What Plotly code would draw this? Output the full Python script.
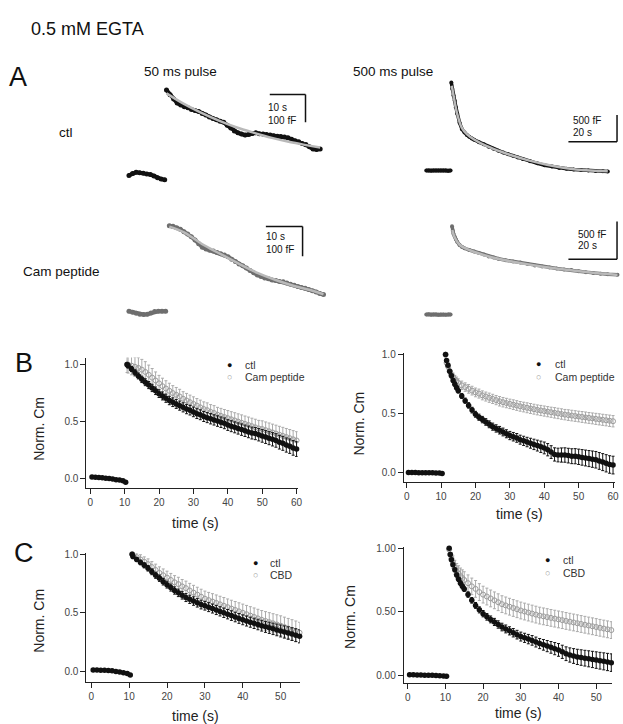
import plotly.graph_objects as go

W, H = 623, 724
FONT = "Arial, 'Liberation Sans', sans-serif"

# ---------------- Panel A: raw capacitance traces (time in s, Cm in fF) ----------------
A50_base_t = [0, 1, 2, 3, 4, 5, 6, 7, 8, 9, 10]
A50_ctl_base = [5, 12, 16, 15, 13, 10, 8, 3, -3, -8, -11]
A50_ctl_t = [10.5, 11.5, 12.5, 13.5, 14.5, 15.5, 16.5, 17.5, 18.5, 19.5, 20.5, 21.5, 22.5, 23.5, 24.5,
             25.5, 26.5, 27.5, 28.5, 29.5, 30.5, 31.5, 32.5, 33.5, 34.5, 35.5, 36.5, 37.5, 38.5, 39.5,
             40.5, 41.5, 42.5, 43.5, 44.5, 45.5, 46.5, 47.5, 48.5, 49.5, 50.5, 51.5, 52.5, 53.5]
A50_ctl = [312, 295, 280, 265, 258, 252, 248, 242, 238, 235, 228, 222, 215, 210, 205,
           200, 196, 185, 175, 165, 158, 154, 150, 152, 156, 158, 155, 154, 152, 150,
           148, 146, 145, 143, 140, 135, 130, 126, 120, 116, 108, 100, 98, 100]
A50_ctl_fit_t = [10.5, 15, 20, 25, 30, 35, 40, 45, 50, 53.5]
A50_ctl_fit = [300, 265, 232, 203, 178, 158, 140, 125, 113, 105]

A50_cam_base = [3, 0, -4, -7, -8, -7, -3, 2, 3, 3, 3]
A50_cam_t = [11, 12, 13, 14, 15, 16, 17, 18, 19, 20, 21, 22, 23, 24, 25, 26, 27, 28, 29, 30, 31, 32,
             33, 34, 35, 36, 37, 38, 39, 40, 41, 42, 43, 44, 45, 46, 47, 48, 49, 50, 51, 52, 53]
A50_cam = [290, 288, 283, 278, 270, 262, 253, 242, 230, 218, 212, 208, 205, 200, 196, 192, 186, 178,
           170, 162, 156, 148, 140, 132, 125, 120, 115, 112, 108, 106, 103, 102, 98, 94, 90, 86, 83,
           80, 76, 72, 68, 63, 59]
A50_cam_fit_t = [11, 15, 20, 25, 30, 35, 40, 45, 50, 53]
A50_cam_fit = [287, 268, 228, 195, 162, 132, 108, 88, 72, 60]

A500_base_t = [0.3, 1.3, 2.3, 3.3, 4.3, 5.3, 6.3, 7.3, 8.3, 9.3, 10.3]
A500_ctl_base = [0, 2, -2, 1, 3, 0, -1, 2, 0, -2, 1]
A500_ctl_t = [10.6, 11, 11.5, 12, 12.5, 13, 14, 15, 16, 17, 18, 19, 20, 22, 24, 26, 28, 30, 32, 34,
              36, 38, 40, 43, 46, 49, 52, 55, 58, 61, 64, 67, 70, 73, 75]
A500_ctl = [1640, 1520, 1400, 1300, 1180, 1060, 890, 770, 710, 665, 630, 600, 575, 530, 490, 445,
            405, 370, 335, 305, 275, 245, 215, 175, 135, 100, 75, 50, 35, 20, 10, 0, -8, -15, -18]
A500_ctl_fit_t = [10.8, 12, 13, 15, 17, 20, 25, 30, 36, 42, 50, 58, 66, 75]
A500_ctl_fit = [1580, 1280, 1060, 790, 680, 580, 460, 370, 275, 195, 110, 45, 5, -15]

A500_cam_base = [0, 3, -2, 2, 0, -3, 1, 2, -1, 0, 2]
A500_cam_t = [10.9, 11.2, 11.5, 12, 12.5, 13, 14, 15, 16, 18, 20, 22, 24, 26, 28, 30, 33, 36, 39, 42,
              45, 48, 51, 54, 57, 60, 63, 66, 69, 72, 75, 79]
A500_cam = [1170, 1110, 1070, 1030, 995, 965, 920, 895, 878, 855, 835, 815, 795, 770, 755, 740, 720,
            703, 688, 670, 650, 638, 625, 610, 598, 590, 575, 562, 550, 542, 535, 526]
A500_cam_fit_t = [11, 12, 14, 18, 26, 36, 47, 59, 70, 79]
A500_cam_fit = [1120, 1020, 925, 855, 770, 700, 640, 590, 550, 525]

# ---------------- Panels B and C: normalised Cm, mean +/- SEM ----------------
T0 = [0.5, 1.5, 2.5, 3.5, 4.5, 5.5, 6.5, 7.5, 8.5, 9.5, 10.3]
BASE_ERR = [0.01, 0.01, 0.01, 0.01, 0.01, 0.01, 0.01, 0.01, 0.01, 0.01, 0.01]

T_BL = [10.7, 11, 12, 13, 14, 15, 16, 17, 18, 19, 20, 21, 22, 23, 24, 25, 26, 27, 28, 29, 30,
        31, 32, 33, 34, 35, 36, 37, 38, 39, 40, 41, 42, 43, 44, 45, 46, 47, 48, 49, 50,
        51, 52, 53, 54, 55, 56, 57, 58, 59, 60]
BL_base = [0.015, 0.013, 0.01, 0.008, 0.005, 0.002, -0.002, -0.008, -0.012, -0.018, -0.03]
BL_ctl = [1.0, 0.99, 0.96, 0.93, 0.90, 0.87, 0.845, 0.82, 0.795, 0.77, 0.745,
          0.725, 0.705, 0.685, 0.67, 0.655, 0.64, 0.625, 0.61, 0.60, 0.585,
          0.57, 0.56, 0.545, 0.535, 0.525, 0.515, 0.505, 0.495, 0.485, 0.47,
          0.46, 0.45, 0.44, 0.43, 0.42, 0.41, 0.40, 0.395, 0.385, 0.375,
          0.365, 0.355, 0.345, 0.335, 0.32, 0.31, 0.295, 0.285, 0.27, 0.26]
BL_ctl_err = [0.01, 0.02, 0.022, 0.024, 0.026, 0.028, 0.03, 0.031, 0.032, 0.033, 0.034,
              0.035, 0.036, 0.037, 0.038, 0.039, 0.04, 0.04, 0.041, 0.042, 0.042,
              0.043, 0.043, 0.044, 0.044, 0.045, 0.045, 0.046, 0.046, 0.047, 0.047,
              0.048, 0.048, 0.049, 0.05, 0.05, 0.051, 0.052, 0.053, 0.054, 0.055,
              0.056, 0.057, 0.058, 0.059, 0.06, 0.061, 0.062, 0.063, 0.064, 0.065]
BL_cam = [1.0, 1.0, 0.99, 0.98, 0.97, 0.955, 0.935, 0.91, 0.885, 0.86, 0.835,
          0.81, 0.79, 0.77, 0.75, 0.735, 0.72, 0.70, 0.685, 0.67, 0.655,
          0.64, 0.625, 0.61, 0.60, 0.585, 0.575, 0.56, 0.55, 0.54, 0.53,
          0.52, 0.51, 0.50, 0.49, 0.48, 0.47, 0.46, 0.45, 0.44, 0.435,
          0.425, 0.415, 0.405, 0.395, 0.385, 0.375, 0.365, 0.355, 0.345, 0.335]
BL_cam_err = [0.07, 0.075, 0.08, 0.085, 0.09, 0.09, 0.09, 0.085, 0.08, 0.075, 0.07,
              0.07, 0.068, 0.066, 0.065, 0.064, 0.063, 0.062, 0.062, 0.062, 0.062,
              0.062, 0.063, 0.063, 0.064, 0.064, 0.065, 0.065, 0.066, 0.066, 0.067,
              0.067, 0.068, 0.068, 0.069, 0.069, 0.07, 0.07, 0.071, 0.071, 0.072,
              0.072, 0.073, 0.073, 0.074, 0.074, 0.075, 0.075, 0.076, 0.076, 0.077]

T_BR = [11.3, 11.6, 12, 12.5, 13, 13.5, 14, 14.5, 15,
        16, 17, 18, 19, 20, 21, 22, 23, 24, 25, 26, 27, 28, 29, 30, 31, 32, 33, 34, 35,
        36, 37, 38, 39, 40, 41, 42, 43, 44, 45, 46, 47, 48, 49, 50, 51, 52, 53, 54, 55,
        56, 57, 58, 59, 60]
BR_base = [0.003, 0.002, 0.003, 0.001, 0.0, 0.001, -0.001, 0.0, -0.002, -0.003, -0.006]
BR_ctl = [1.0, 0.95, 0.91, 0.86, 0.82, 0.78, 0.75, 0.72, 0.695,
          0.65, 0.61, 0.57, 0.53, 0.495, 0.47, 0.45, 0.43, 0.41, 0.39,
          0.375, 0.36, 0.345, 0.33, 0.315, 0.305, 0.295, 0.28, 0.27, 0.26,
          0.25, 0.24, 0.23, 0.22, 0.21, 0.195, 0.175, 0.155, 0.15, 0.15,
          0.15, 0.145, 0.14, 0.14, 0.135, 0.13, 0.125, 0.12, 0.115, 0.11,
          0.10, 0.09, 0.08, 0.07, 0.065]
BR_ctl_err = [0.01, 0.012, 0.014, 0.015, 0.016, 0.017, 0.018, 0.019, 0.02,
              0.021, 0.022, 0.023, 0.024, 0.025, 0.026, 0.027, 0.028, 0.029, 0.03,
              0.031, 0.032, 0.033, 0.034, 0.035, 0.036, 0.037, 0.038, 0.039, 0.04,
              0.042, 0.044, 0.046, 0.048, 0.05, 0.052, 0.054, 0.056, 0.058, 0.06,
              0.061, 0.062, 0.063, 0.064, 0.065, 0.066, 0.067, 0.068, 0.069, 0.07,
              0.071, 0.072, 0.073, 0.074, 0.075]
BR_cam = [1.0, 0.93, 0.90, 0.86, 0.83, 0.81, 0.79, 0.775, 0.76,
          0.74, 0.725, 0.71, 0.695, 0.68, 0.67, 0.655, 0.645, 0.635, 0.625,
          0.615, 0.605, 0.597, 0.59, 0.583, 0.576, 0.569, 0.562, 0.556, 0.55,
          0.544, 0.538, 0.532, 0.527, 0.522, 0.517, 0.512, 0.507, 0.502, 0.497,
          0.492, 0.488, 0.484, 0.48, 0.476, 0.472, 0.468, 0.464, 0.46, 0.456,
          0.452, 0.448, 0.444, 0.44, 0.436]
BR_cam_err = [0.02, 0.025, 0.028, 0.03, 0.032, 0.033, 0.034, 0.035, 0.035,
              0.036, 0.036, 0.037, 0.037, 0.037, 0.038, 0.038, 0.038, 0.039, 0.039,
              0.039, 0.04, 0.04, 0.04, 0.04, 0.041, 0.041, 0.041, 0.041, 0.042,
              0.042, 0.042, 0.042, 0.043, 0.043, 0.043, 0.043, 0.044, 0.044, 0.044,
              0.044, 0.045, 0.045, 0.045, 0.045, 0.046, 0.046, 0.046, 0.046, 0.047,
              0.047, 0.047, 0.047, 0.048, 0.048]

T_CL = [10.8, 11, 12, 13, 14, 15, 16, 17, 18, 19, 20, 21, 22, 23, 24, 25, 26, 27, 28, 29, 30,
        31, 32, 33, 34, 35, 36, 37, 38, 39, 40, 41, 42, 43, 44, 45, 46, 47, 48, 49, 50,
        51, 52, 53, 54, 55]
CL_base = [0.012, 0.012, 0.01, 0.01, 0.007, 0.005, 0.0, -0.005, -0.012, -0.018, -0.03]
CL_ctl = [1.0, 0.98,
          0.955, 0.93, 0.905, 0.88, 0.85, 0.82, 0.795, 0.765, 0.74, 0.715,
          0.69, 0.67, 0.65, 0.63, 0.615, 0.60, 0.585, 0.57, 0.56, 0.548,
          0.536, 0.524, 0.512, 0.50, 0.488, 0.476, 0.464, 0.452, 0.44, 0.43,
          0.42, 0.41, 0.40, 0.39, 0.38, 0.372, 0.363, 0.354, 0.345, 0.336,
          0.327, 0.318, 0.309, 0.30]
CL_ctl_err = [0.01, 0.015,
              0.018, 0.02, 0.022, 0.024, 0.025, 0.026, 0.027, 0.028, 0.029, 0.03,
              0.031, 0.032, 0.033, 0.034, 0.035, 0.036, 0.036, 0.037, 0.037, 0.038,
              0.038, 0.039, 0.039, 0.04, 0.04, 0.041, 0.041, 0.042, 0.042, 0.043,
              0.043, 0.044, 0.045, 0.046, 0.047, 0.048, 0.049, 0.05, 0.051, 0.052,
              0.053, 0.054, 0.055, 0.056]
CL_cbd = [1.0, 0.99,
          0.975, 0.955, 0.935, 0.915, 0.89, 0.865, 0.84, 0.82, 0.80, 0.78,
          0.76, 0.745, 0.725, 0.71, 0.69, 0.672, 0.655, 0.637, 0.62, 0.608,
          0.596, 0.584, 0.572, 0.56, 0.548, 0.536, 0.524, 0.512, 0.50, 0.488,
          0.476, 0.464, 0.452, 0.44, 0.43, 0.42, 0.41, 0.40, 0.39, 0.378,
          0.366, 0.354, 0.342, 0.33]
CL_cbd_err = [0.02, 0.03,
              0.035, 0.04, 0.042, 0.045, 0.047, 0.05, 0.052, 0.054, 0.055, 0.056,
              0.057, 0.058, 0.059, 0.06, 0.061, 0.062, 0.063, 0.064, 0.065, 0.066,
              0.067, 0.068, 0.069, 0.07, 0.07, 0.071, 0.072, 0.073, 0.074, 0.075,
              0.076, 0.077, 0.078, 0.079, 0.08, 0.081, 0.082, 0.083, 0.084, 0.085,
              0.086, 0.087, 0.088, 0.089]

T_CR = [11, 11.3, 11.6, 12, 12.5, 13, 13.5, 14, 14.5, 15,
        16, 17, 18, 19, 20, 21, 22, 23, 24, 25, 26, 27, 28, 29, 30, 31, 32, 33, 34, 35,
        36, 37, 38, 39, 40, 41, 42, 43, 44, 45, 46, 47, 48, 49, 50, 51, 52, 53, 54]
CR_base = [0.005, 0.004, 0.003, 0.002, 0.001, 0.0, 0.0, -0.002, -0.004, -0.006, -0.008]
CR_ctl = [1.0, 0.95, 0.91, 0.87, 0.83, 0.79, 0.755, 0.725, 0.70, 0.68,
          0.635, 0.59, 0.55, 0.515, 0.485, 0.46, 0.44, 0.42, 0.40, 0.38,
          0.365, 0.35, 0.335, 0.32, 0.305, 0.295, 0.285, 0.275, 0.262, 0.25,
          0.24, 0.23, 0.22, 0.21, 0.2, 0.185, 0.17, 0.16, 0.152, 0.145,
          0.14, 0.135, 0.13, 0.125, 0.12, 0.115, 0.11, 0.105, 0.10]
CR_ctl_err = [0.01, 0.012, 0.013, 0.014, 0.015, 0.016, 0.017, 0.018, 0.019, 0.02,
              0.021, 0.022, 0.023, 0.024, 0.025, 0.026, 0.027, 0.028, 0.029, 0.03,
              0.031, 0.032, 0.033, 0.034, 0.035, 0.036, 0.037, 0.038, 0.039, 0.04,
              0.042, 0.044, 0.046, 0.048, 0.05, 0.052, 0.054, 0.056, 0.058, 0.06,
              0.061, 0.062, 0.063, 0.064, 0.065, 0.066, 0.067, 0.068, 0.069]
CR_cbd = [0.99, 0.95, 0.92, 0.89, 0.85, 0.82, 0.80, 0.78, 0.765, 0.75,
          0.725, 0.70, 0.68, 0.655, 0.635, 0.62, 0.605, 0.59, 0.575, 0.56,
          0.55, 0.54, 0.53, 0.52, 0.51, 0.502, 0.494, 0.486, 0.478, 0.47,
          0.464, 0.458, 0.452, 0.446, 0.44, 0.434, 0.428, 0.422, 0.416, 0.41,
          0.404, 0.398, 0.392, 0.386, 0.38, 0.374, 0.368, 0.362, 0.356]
CR_cbd_err = [0.03, 0.04, 0.045, 0.05, 0.055, 0.06, 0.062, 0.064, 0.065, 0.065,
              0.065, 0.065, 0.066, 0.066, 0.066, 0.066, 0.066, 0.066, 0.066, 0.066,
              0.066, 0.066, 0.066, 0.066, 0.066, 0.066, 0.066, 0.066, 0.066, 0.066,
              0.066, 0.066, 0.066, 0.066, 0.066, 0.066, 0.066, 0.066, 0.066, 0.066,
              0.066, 0.066, 0.066, 0.066, 0.066, 0.066, 0.066, 0.066, 0.066]

# ---------------- helpers ----------------
def xdom(l, r):
    return [l / W, r / W]

def ydom(top, bottom):
    return [1 - bottom / H, 1 - top / H]

def px(x):
    return x / W

def py(y):
    return 1 - y / H

BLACK = "#111111"
CAM = "#6e6e6e"
FIT = "#b9b9b9"
GRAY_MK = "#9c9c9c"
GRAY_ERR = "#ababab"

fig = go.Figure()

def trace_line(x, y, ax, color, lw, ms):
    fig.add_trace(go.Scatter(x=x, y=y, xaxis="x" + ax, yaxis="y" + ax, mode="lines+markers",
                             line=dict(color=color, width=lw), marker=dict(color=color, size=ms),
                             cliponaxis=False, showlegend=False, hoverinfo="skip"))

def fit_line(x, y, ax, lw=2.5):
    fig.add_trace(go.Scatter(x=x, y=y, xaxis="x" + ax, yaxis="y" + ax, mode="lines",
                             line=dict(color=FIT, width=lw, shape="spline"),
                             cliponaxis=False, showlegend=False, hoverinfo="skip"))

# Panel A traces
trace_line(A50_base_t, A50_ctl_base, "", BLACK, 4, 5)
trace_line(A50_ctl_t, A50_ctl, "", BLACK, 4, 5)
fit_line(A50_ctl_fit_t, A50_ctl_fit, "")

trace_line(A500_base_t, A500_ctl_base, "2", BLACK, 4, 4)
trace_line(A500_ctl_t, A500_ctl, "2", BLACK, 3.5, 4)
fit_line(A500_ctl_fit_t, A500_ctl_fit, "2", 2.5)

trace_line(A50_base_t, A50_cam_base, "3", CAM, 4, 5)
trace_line(A50_cam_t, A50_cam, "3", CAM, 4, 5)
fit_line(A50_cam_fit_t, A50_cam_fit, "3")

trace_line(A500_base_t, A500_cam_base, "4", CAM, 4, 4)
trace_line(A500_cam_t, A500_cam, "4", CAM, 3.5, 4)
fit_line(A500_cam_fit_t, A500_cam_fit, "4", 2.5)

# Panels B, C
def gray_series(x, y, e, ax):
    fig.add_trace(go.Scatter(x=x, y=y, xaxis="x" + ax, yaxis="y" + ax, mode="markers",
                             marker=dict(symbol="circle-open", size=5, color=GRAY_MK, line=dict(width=1)),
                             error_y=dict(type="data", array=e, color=GRAY_ERR, thickness=1, width=1.5),
                             cliponaxis=False, showlegend=False, hoverinfo="skip"))

def black_series(x, y, e, ax):
    fig.add_trace(go.Scatter(x=x, y=y, xaxis="x" + ax, yaxis="y" + ax, mode="markers",
                             marker=dict(symbol="circle", size=5.5, color=BLACK),
                             error_y=dict(type="data", array=e, color=BLACK, thickness=1, width=1.5),
                             cliponaxis=False, showlegend=False, hoverinfo="skip"))

gray_series(T_BL, BL_cam, BL_cam_err, "5")
black_series(T0, BL_base, BASE_ERR, "5")
black_series(T_BL, BL_ctl, BL_ctl_err, "5")

gray_series(T_BR, BR_cam, BR_cam_err, "6")
black_series(T0, BR_base, BASE_ERR, "6")
black_series(T_BR, BR_ctl, BR_ctl_err, "6")

gray_series(T_CL, CL_cbd, CL_cbd_err, "7")
black_series(T0, CL_base, BASE_ERR, "7")
black_series(T_CL, CL_ctl, CL_ctl_err, "7")

gray_series(T_CR, CR_cbd, CR_cbd_err, "8")
black_series(T0, CR_base, BASE_ERR, "8")
black_series(T_CR, CR_ctl, CR_ctl_err, "8")

# ---------------- axes ----------------
def hidden(dom, rng, anchor):
    return dict(domain=dom, range=rng, visible=False, fixedrange=True, anchor=anchor)

def shown(dom, rng, anchor, tickvals, fmt):
    return dict(domain=dom, range=rng, anchor=anchor, showline=True, linecolor="#222", linewidth=1,
                ticks="outside", ticklen=5, tickwidth=1, tickcolor="#222",
                tickfont=dict(size=10, color="#444", family=FONT),
                tickmode="array", tickvals=tickvals, tickformat=fmt,
                showgrid=False, zeroline=False, fixedrange=True)

layout = dict(
    width=W, height=H, margin=dict(l=0, r=0, t=0, b=0),
    paper_bgcolor="white", plot_bgcolor="rgba(0,0,0,0)",
    font=dict(family=FONT, color="#111"),
    showlegend=False,
    xaxis=hidden(xdom(120, 335), [-2.78, 56.9], "y"),
    yaxis=hidden(ydom(80, 180), [-25, 332], "x"),
    xaxis2=hidden(xdom(420, 623), [-3.67, 79.2], "y2"),
    yaxis2=hidden(ydom(72, 180), [-246, 1754], "x2"),
    xaxis3=hidden(xdom(120, 335), [-2.7, 55.4], "y3"),
    yaxis3=hidden(ydom(210, 320), [-35.7, 331], "x3"),
    xaxis4=hidden(xdom(420, 623), [-3.67, 79.2], "y4"),
    yaxis4=hidden(ydom(210, 320), [-109, 1338], "x4"),
    xaxis5=shown(xdom(87, 300), [-1.15, 60.29], "y5", [0, 10, 20, 30, 40, 50, 60], "d"),
    yaxis5=shown(ydom(355, 486), [-0.078, 1.061], "x5", [0, 0.5, 1.0], ".1f"),
    xaxis6=shown(xdom(407, 620), [-0.865, 60.58], "y6", [0, 10, 20, 30, 40, 50, 60], "d"),
    yaxis6=shown(ydom(350, 480), [-0.0756, 1.017], "x6", [0, 0.5, 1.0], ".1f"),
    xaxis7=shown(xdom(87, 302), [-1.31, 55.0], "y7", [0, 10, 20, 30, 40, 50], "d"),
    yaxis7=shown(ydom(552, 682), [-0.093, 1.0085], "x7", [0, 0.5, 1.0], ".1f"),
    xaxis8=shown(xdom(407, 617), [-1.05, 54.2], "y8", [0, 10, 20, 30, 40, 50], "d"),
    yaxis8=shown(ydom(546, 683), [-0.0625, 1.0078], "x8", [0, 0.5, 1.0], ".2f"),
)
fig.update_layout(**layout)

# ---------------- scale bars (panel A) ----------------
def bar(ax, x0, y0, x1, y1):
    fig.add_shape(type="line", xref="x" + ax, yref="y" + ax, x0=x0, y0=y0, x1=x1, y1=y1,
                  line=dict(color="#111", width=1.5))

bar("", 39.4, 296, 49.4, 296)
bar("", 49.4, 296, 49.4, 196)
bar("3", 37.3, 287.7, 47.3, 287.7)
bar("3", 47.3, 287.7, 47.3, 187.7)
bar("2", 58.8, 537, 78.8, 537)
bar("2", 78.8, 537, 78.8, 1037)
bar("4", 58.8, 733, 78.8, 733)
bar("4", 78.8, 733, 78.8, 1233)

ann = []

def text(x, y, s, size, color="#111", xanchor="center", angle=0, xref="paper", yref="paper"):
    ann.append(dict(x=x, y=y, xref=xref, yref=yref, text=s, showarrow=False, xanchor=xanchor,
                    yanchor="middle", textangle=angle, font=dict(size=size, color=color, family=FONT)))

# scale bar labels
text(38.3, 250, "10 s", 10, xanchor="left", xref="x", yref="y")
text(38.3, 204, "100 fF", 10, xanchor="left", xref="x", yref="y")
text(36.8, 254, "10 s", 10, xanchor="left", xref="x3", yref="y3")
text(36.8, 211, "100 fF", 10, xanchor="left", xref="x3", yref="y3")
text(60.0, 926, "500 fF", 10, xanchor="left", xref="x2", yref="y2")
text(60.0, 711, "20 s", 10, xanchor="left", xref="x2", yref="y2")
text(61.9, 1066, "500 fF", 10, xanchor="left", xref="x4", yref="y4")
text(61.9, 917, "20 s", 10, xanchor="left", xref="x4", yref="y4")

# headings & labels
text(px(88.5), py(24), "0.5 mM EGTA", 18)
text(px(18.5), py(73), "A", 27)
text(px(24), py(360), "B", 27)
text(px(24), py(552), "C", 27)
text(px(181.6), py(67), "50 ms pulse", 13.5)
text(px(396), py(67), "500 ms pulse", 13.5)
text(px(67), py(128), "ctl", 13.5)
text(px(62), py(268), "Cam peptide", 13.5)

# axis titles
for (xx, yy) in [(39.3, 426.7), (361.7, 421.7), (39.3, 620), (353.3, 615.7)]:
    text(px(xx), py(yy), "Norm. Cm", 14, color="#222", angle=-90)
for (xx, yy) in [(197, 522), (523.3, 512.7), (196.7, 716), (522.5, 713)]:
    text(px(xx), py(yy), "time (s)", 14, color="#222")

# legends
def legend(mx, y1, y2, tx, second):
    text(px(mx), py(y1), "●", 9, color=BLACK)
    text(px(tx), py(y1), "ctl", 10.5, color="#333", xanchor="left")
    text(px(mx), py(y2), "○", 9, color=GRAY_MK)
    text(px(tx), py(y2), second, 10.5, color="#333", xanchor="left")

legend(231.7, 362.3, 375, 245, "Cam peptide")
legend(543.3, 361.7, 374.3, 557, "Cam peptide")
legend(257.3, 561.7, 574.3, 270, "CBD")
legend(551.7, 559.3, 571.7, 565.7, "CBD")

fig.update_layout(annotations=ann)
fig.write_html("out.html", config={"displayModeBar": False},
               post_script="document.body.style.margin='0';document.body.style.padding='0';"
                           "document.body.style.overflow='hidden';")
